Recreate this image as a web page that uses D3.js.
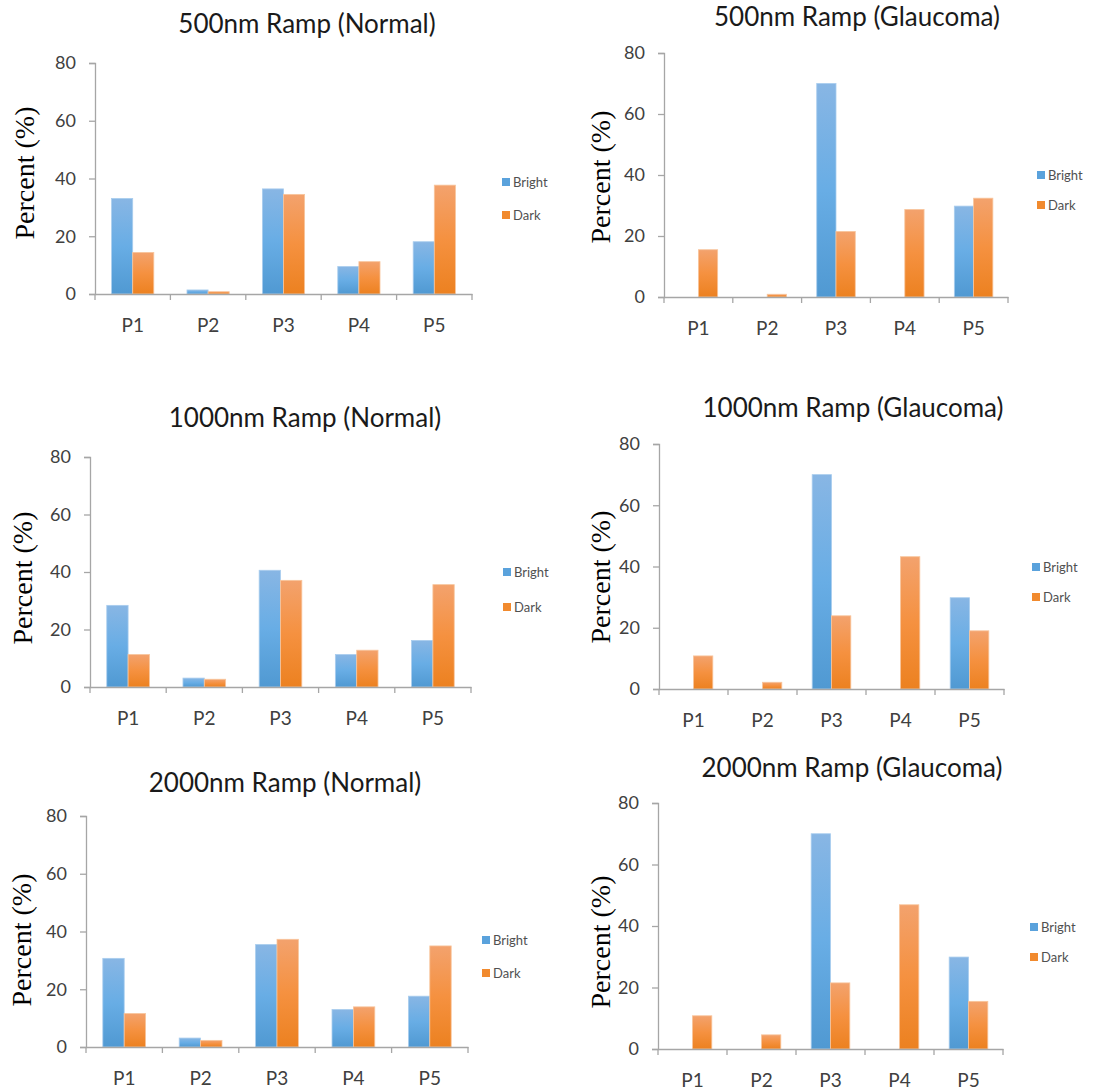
<!DOCTYPE html>
<html>
<head>
<meta charset="utf-8">
<script src="https://cdn.jsdelivr.net/npm/d3@7"></script>
<style>
  body { margin: 0; background: #fff; }
  svg { display: block; }
</style>
</head>
<body>
<svg id="chart"></svg>
<script>
var width = 1112, height = 1092;

// Data
const categories = ["P1", "P2", "P3", "P4", "P5"];
const seriesNames = ["Bright", "Dark"];
const yTicks = [0, 20, 40, 60, 80];
const titles = [
  "500nm Ramp (Normal)", "500nm Ramp (Glaucoma)",
  "1000nm Ramp (Normal)", "1000nm Ramp (Glaucoma)",
  "2000nm Ramp (Normal)", "2000nm Ramp (Glaucoma)"
];

const bright500Normal = [33.1, 1.4, 36.4, 9.5, 18.1];
const dark500Normal = [14.4, 0.8, 34.5, 11.2, 37.7];
const bright500Glaucoma = [0, 0, 70, 0, 29.8];
const dark500Glaucoma = [15.5, 0.9, 21.5, 28.7, 32.4];
const bright1000Normal = [28.4, 3.1, 40.6, 11.3, 16.2];
const dark1000Normal = [11.3, 2.7, 37.1, 12.8, 35.6];
const bright1000Glaucoma = [0, 0, 70, 0, 29.8];
const dark1000Glaucoma = [10.8, 2.2, 23.9, 43.2, 19.0];
const bright2000Normal = [30.7, 3.1, 35.5, 13.0, 17.6];
const dark2000Normal = [11.6, 2.3, 37.3, 13.9, 35.0];
const bright2000Glaucoma = [0, 0, 70, 0, 29.9];
const dark2000Glaucoma = [10.8, 4.6, 21.5, 46.9, 15.5];

const brightSets = [bright500Normal, bright500Glaucoma, bright1000Normal, bright1000Glaucoma, bright2000Normal, bright2000Glaucoma];
const darkSets = [dark500Normal, dark500Glaucoma, dark1000Normal, dark1000Glaucoma, dark2000Normal, dark2000Glaucoma];

// Layout of each panel (plot area, title, legend, y label)
var layout = [
  {x0: 95,  x1: 472,  y0: 294,  yTop: 63,  tx: 307, ty: 33,  lx: 502,  lb: 182, ld: 215, yx: 24,  yy: 173},
  {x0: 664, x1: 1008, y0: 297,  yTop: 53,  tx: 857, ty: 26,  lx: 1037, lb: 175, ld: 205, yx: 600, yy: 177},
  {x0: 90,  x1: 471,  y0: 687,  yTop: 457, tx: 305, ty: 427, lx: 503,  lb: 572, ld: 607, yx: 22,  yy: 578},
  {x0: 659, x1: 1004, y0: 689,  yTop: 444, tx: 853, ty: 417, lx: 1032, lb: 567, ld: 597, yx: 600, yy: 577},
  {x0: 86,  x1: 468,  y0: 1047, yTop: 816, tx: 285, ty: 792, lx: 482,  lb: 940, ld: 973, yx: 21,  yy: 940},
  {x0: 658, x1: 1003, y0: 1049, yTop: 803, tx: 852, ty: 777, lx: 1030, lb: 927, ld: 957, yx: 600, yy: 942}
];

var sansFont = "Lato, 'Open Sans', sans-serif";
var axisColor = "#a6a6a6";
var textColor = "#404040";

var svg = d3.select("#chart")
    .attr("width", width)
    .attr("height", height);

// gradients like the office bar fill
var defs = svg.append("defs");
function addGradient(id, top, mid, bottom) {
  var g = defs.append("linearGradient")
      .attr("id", id)
      .attr("x1", 0).attr("y1", 0).attr("x2", 0).attr("y2", 1);
  g.append("stop").attr("offset", "0%").attr("stop-color", top);
  g.append("stop").attr("offset", "50%").attr("stop-color", mid);
  g.append("stop").attr("offset", "100%").attr("stop-color", bottom);
}
addGradient("gradBright", "#88b6e4", "#68ade5", "#5099d2");
addGradient("gradDark", "#f3a26d", "#f59140", "#ec8120");

var fills = {Bright: "url(#gradBright)", Dark: "url(#gradDark)"};
var strokes = {Bright: "#a9cdee", Dark: "#f8c59c"};
var legendColors = {Bright: "#5aa2dc", Dark: "#f18a2e"};

layout.forEach(function(L, i) {
  var g = svg.append("g");

  var y = d3.scaleLinear().domain([0, 80]).range([L.y0, L.yTop]);
  var x = d3.scaleBand().domain(categories).range([L.x0, L.x1])
      .paddingInner(0.44).paddingOuter(0.22);
  var xSub = d3.scaleBand().domain(seriesNames).range([0, x.bandwidth()]);
  var xEdges = d3.scaleLinear().domain([0, categories.length]).range([L.x0, L.x1]);

  // title
  g.append("text")
      .attr("x", L.tx).attr("y", L.ty)
      .attr("text-anchor", "middle")
      .style("font-family", sansFont)
      .style("font-size", "26px")
      .style("fill", "#1a1a1a")
      .text(titles[i]);

  // y label
  g.append("text")
      .attr("transform", "translate(" + L.yx + "," + L.yy + ") rotate(-90)")
      .attr("text-anchor", "middle")
      .attr("dy", "0.35em")
      .style("font-family", "'Liberation Serif', 'Times New Roman', serif")
      .style("font-size", "28px")
      .style("fill", "#000")
      .text("Percent (%)");

  // bars
  var rows = categories.map(function(c, k) {
    return {cat: c, values: [
      {name: "Bright", v: brightSets[i][k]},
      {name: "Dark", v: darkSets[i][k]}
    ]};
  });

  g.selectAll("g.cat")
    .data(rows)
    .join("g")
      .attr("class", "cat")
      .attr("transform", function(d) { return "translate(" + x(d.cat) + ",0)"; })
    .selectAll("rect")
    .data(function(d) { return d.values.filter(function(s) { return s.v > 0; }); })
    .join("rect")
      .attr("x", function(d) { return xSub(d.name); })
      .attr("y", function(d) { return y(d.v); })
      .attr("width", xSub.bandwidth())
      .attr("height", function(d) { return y(0) - y(d.v); })
      .attr("fill", function(d) { return fills[d.name]; })
      .attr("stroke", function(d) { return strokes[d.name]; })
      .attr("stroke-width", 0.8);

  // y axis
  var yAxis = g.append("g")
      .attr("transform", "translate(" + L.x0 + ",0)")
      .call(d3.axisLeft(y).tickValues(yTicks).tickSize(6).tickPadding(13));
  yAxis.select(".domain").attr("stroke", axisColor).attr("stroke-width", 1.3);
  yAxis.selectAll(".tick line").attr("stroke", axisColor).attr("stroke-width", 1.3);
  yAxis.selectAll(".tick text")
      .style("font-family", sansFont)
      .style("font-size", "18px")
      .style("fill", textColor);

  // x axis
  var xAxis = g.append("g")
      .attr("transform", "translate(0," + L.y0 + ")")
      .call(d3.axisBottom(x).tickSize(0).tickPadding(25));
  xAxis.select(".domain").attr("stroke", axisColor).attr("stroke-width", 1.3);
  xAxis.selectAll(".tick text")
      .style("font-family", sansFont)
      .style("font-size", "19px")
      .style("fill", textColor);

  xAxis.selectAll("line.edge")
    .data(d3.range(categories.length + 1))
    .join("line")
      .attr("class", "edge")
      .attr("x1", function(d) { return xEdges(d); })
      .attr("x2", function(d) { return xEdges(d); })
      .attr("y1", 0).attr("y2", 6)
      .attr("stroke", axisColor)
      .attr("stroke-width", 1.3);

  // legend
  var leg = g.selectAll("g.legend")
    .data(seriesNames)
    .join("g")
      .attr("class", "legend")
      .attr("transform", function(d) {
        return "translate(" + L.lx + "," + (d === "Bright" ? L.lb : L.ld) + ")";
      });
  leg.append("rect")
      .attr("x", 0).attr("y", -4)
      .attr("width", 8).attr("height", 8)
      .attr("fill", function(d) { return legendColors[d]; });
  leg.append("text")
      .attr("x", 11).attr("dy", "0.35em")
      .style("font-family", sansFont)
      .style("font-size", "13px")
      .style("fill", "#505050")
      .text(function(d) { return d; });
});
</script>
</body>
</html>
